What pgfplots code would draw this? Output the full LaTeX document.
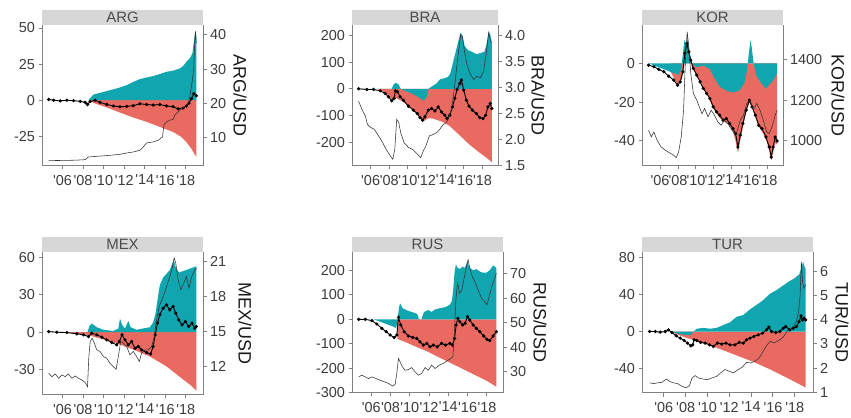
\documentclass[border=0pt]{standalone}
\usepackage{fontspec}
\setmainfont{Liberation Sans}
\usepackage{pgfplots}
\pgfplotsset{compat=1.18}
\definecolor{tealc}{RGB}{16,165,175}
\definecolor{redc}{RGB}{233,106,96}
\definecolor{stripc}{RGB}{215,215,215}
\definecolor{linegray}{RGB}{128,128,128}
\definecolor{labgray}{RGB}{60,60,60}
\pgfplotsset{
 base/.style={scale only axis, anchor=south west, xmin=2004, xmax=2019.67,
   axis line style={linegray,line width=1bp,-}, tick style={linegray,line width=1bp},
   tick align=outside, major tick length=3.5bp,
   tick label style={font=\fontsize{14.5}{16}\selectfont, text=labgray}},
 panelL/.style={base, axis x line*=bottom, axis y line*=left,
   xtick={2006,2008,...,2018},
   xticklabels={{\textquotesingle}06,{\textquotesingle}08,{\textquotesingle}10,{\textquotesingle}12,{\textquotesingle}14,{\textquotesingle}16,{\textquotesingle}18},
   x tick label style={yshift=-2bp}},
 panelR/.style={base, axis x line=none, axis y line*=right},
 redA/.style={fill=redc, draw=none},
 tealA/.style={fill=tealc, draw=none},
 dotL/.style={black, line width=0.9bp, mark=*, mark size=1.15bp},
 thinL/.style={black!80, line width=0.55bp},
}
\newcommand{\strip}[2]{\fill[stripc] (#1.north west) rectangle ([yshift=15bp]#1.north east);
 \node[font=\fontsize{15}{16}\selectfont, text=black!70, inner sep=0pt] at ([yshift=7.5bp]#1.north) {#2};}
\newcommand{\rlabel}[3]{\node[rotate=-90, font=\fontsize{18}{20}\selectfont, text=black!90, inner sep=0pt] at ([xshift=#2]#1.east) {#3};}
\begin{document}
\begin{tikzpicture}
\path[use as bounding box] (0,0) rectangle (851bp,418bp);
% ---------------- ARG
\begin{axis}[panelL, name=arg, at={(42bp,252bp)}, width=161bp, height=141bp,
  ymin=-45.6, ymax=52.1, ytick={-25,0,25,50}, yticklabels={-25,0,25,50}]
\addplot[redA] coordinates {(2008.52,0) (2009.01,-1.9) (2009.65,-3.5) (2010.62,-5.8) (2011.59,-8.6) (2012.89,-12) (2014.18,-15) (2015.47,-18.5) (2016.76,-22) (2017.57,-25.5) (2018.05,-29) (2018.54,-33.6) (2019.02,-39.4)} \closedcycle;
\addplot[tealA] coordinates {(2008.52,0) (2009.01,3.9) (2009.65,5.1) (2010.62,6.9) (2011.59,8.8) (2012.24,10.4) (2012.89,12.7) (2013.53,14.6) (2014.18,15.7) (2014.82,16.7) (2015.47,18.1) (2016.12,19.7) (2016.76,20.4) (2017.41,22) (2017.73,23.6) (2018.05,26.6) (2018.38,28.9) (2018.64,32.4) (2018.80,41.7) (2018.93,48.2) (2019.02,44)} \closedcycle;
\addplot[dotL] coordinates {(2004.65,0.5) (2005.13,0) (2005.78,-0.5) (2006.42,0) (2007.07,-0.3) (2007.72,-0.8) (2008.2,-1.5) (2008.43,-3) (2008.68,-1) (2009.17,0) (2009.65,-1.5) (2010.3,-3) (2010.95,-4) (2011.59,-4.6) (2012.24,-4.3) (2012.89,-3.8) (2013.53,-2.5) (2014.18,-3) (2014.82,-3.4) (2015.47,-3) (2016.12,-4) (2016.76,-4.5) (2017.25,-6) (2017.73,-5.5) (2018.05,-4) (2018.31,-2) (2018.54,1) (2018.77,4.5) (2019.02,3)};
\end{axis}
\begin{axis}[panelR, name=argR, at={(42bp,252bp)}, width=161bp, height=141bp,
  ymin=1.7, ymax=42.9, ytick={10,20,30,40}, yticklabels={10,20,30,40}]
\addplot[thinL] coordinates {(2004.65,3.35) (2005.5,3.3) (2006.42,3.35) (2007.3,3.4) (2008.20,3.55) (2008.52,4.33) (2009.33,4.53) (2010.62,4.82) (2011.59,5.11) (2012.24,5.5) (2012.89,5.8) (2013.53,6.29) (2013.85,7.26) (2014.18,8.44) (2014.82,8.73) (2015.31,9.22) (2015.73,10.2) (2015.86,13.6) (2016.12,14.6) (2016.44,15.1) (2016.76,15.3) (2016.92,16.5) (2017.25,17.5) (2017.57,18.5) (2017.89,19.0) (2018.22,20.0) (2018.38,21.9) (2018.54,24.9) (2018.64,26.8) (2018.77,30.7) (2018.86,37.6) (2018.93,41.0) (2019.02,37.6)};
\end{axis}
\strip{arg}{ARG}
\rlabel{argR}{37bp}{ARG/USD}
% ---------------- BRA
\begin{axis}[panelL, name=bra, at={(352bp,252bp)}, width=146bp, height=141bp,
  ymin=-289.7, ymax=239.5, ytick={-200,-100,0,100,200}, yticklabels={-200,-100,0,100,200}]
\addplot[redA] coordinates {(2006.67,0) (2007.02,-5) (2007.74,-18) (2008.27,-40) (2008.80,-35) (2009.52,-50) (2010.58,-82) (2011.4,-112) (2011.65,-122) (2012.2,-110) (2012.72,-112) (2013.79,-125) (2014.50,-140) (2015.57,-175) (2016.63,-210) (2017.70,-240) (2018.41,-258) (2019.0,-275)} \closedcycle;
\addplot[tealA] coordinates {(2004.71,0) (2008.27,0) (2008.45,15) (2008.63,22) (2008.98,18) (2009.23,0) (2009.87,-10) (2010.58,-20) (2011.30,-35) (2011.72,-45) (2012.01,-30) (2012.22,0) (2012.54,8) (2013.07,20) (2013.43,35) (2013.96,40) (2014.32,45) (2014.57,60) (2014.85,100) (2015.14,140) (2015.42,180) (2015.64,210) (2015.85,200) (2016.10,160) (2016.46,145) (2016.81,140) (2017.35,130) (2017.88,135) (2018.23,140) (2018.48,175) (2018.70,215) (2018.91,195) (2019.0,170)} \closedcycle;
\addplot[dotL] coordinates {(2004.71,0) (2005.60,-2.5) (2006.31,-2.5) (2007.02,-7.5) (2007.56,-17.6) (2007.91,-30) (2008.27,-45) (2008.52,-36) (2008.66,-7.5) (2008.88,-11) (2009.16,-30) (2009.52,-43) (2010.05,-65) (2010.58,-80) (2011.01,-93) (2011.30,-108) (2011.58,-118) (2011.83,-105) (2012.19,-80) (2012.54,-74) (2012.90,-83) (2013.25,-68) (2013.61,-87) (2013.96,-99) (2014.21,-112) (2014.50,-99) (2014.78,-68) (2015.03,-36) (2015.28,-2.5) (2015.57,20) (2015.74,33) (2015.99,-5) (2016.28,-43) (2016.56,-65) (2016.92,-80) (2017.35,-93) (2017.70,-108) (2018.06,-112) (2018.34,-99) (2018.59,-68) (2018.84,-55) (2019.0,-74)};
\end{axis}
\begin{axis}[panelR, name=braR, at={(352bp,252bp)}, width=146bp, height=141bp,
  ymin=1.49, ymax=4.21, ytick={1.5,2,2.5,3,3.5,4}, yticklabels={1.5,2.0,2.5,3.0,3.5,4.0}]
\addplot[thinL] coordinates {(2004.71,2.74) (2005.07,2.58) (2005.42,2.46) (2005.67,2.29) (2006.03,2.23) (2006.38,2.2) (2006.85,2.07) (2007.20,1.97) (2007.67,1.81) (2008.09,1.69) (2008.38,1.62) (2008.59,1.81) (2008.80,2.39) (2009.02,2.33) (2009.23,2.13) (2009.59,1.94) (2010.05,1.85) (2010.51,1.81) (2011.01,1.72) (2011.37,1.65) (2011.65,1.78) (2011.94,1.88) (2012.29,2.07) (2012.72,2.10) (2013.07,2.13) (2013.43,2.2) (2013.79,2.29) (2014.14,2.33) (2014.43,2.46) (2014.68,2.58) (2014.93,2.9) (2015.21,3.35) (2015.46,3.74) (2015.67,4.03) (2015.85,3.99) (2016.10,3.67) (2016.38,3.42) (2016.70,3.26) (2017.06,3.16) (2017.42,3.22) (2017.77,3.19) (2018.13,3.32) (2018.41,3.67) (2018.66,4.06) (2018.88,3.90) (2019.0,3.87)};
\end{axis}
\strip{bra}{BRA}
\rlabel{braR}{40bp}{BRA/USD}
% ---------------- KOR
\begin{axis}[panelL, name=kor, at={(642bp,252bp)}, width=141bp, height=141bp,
  ymin=-52.9, ymax=19.8, ytick={-40,-20,0}, yticklabels={-40,-20,0}]
\addplot[redA] coordinates {(2007.15,-4) (2007.96,-11) (2008.43,-8) (2008.80,2) (2009.16,5) (2009.42,0) (2009.79,-4) (2010.26,-8) (2010.81,-13) (2011.36,-17) (2011.91,-23) (2012.46,-27) (2013.01,-30) (2013.56,-31) (2014.11,-35) (2014.40,-40) (2014.66,-46) (2014.92,-40) (2015.21,-33) (2015.58,-25) (2015.94,-20) (2016.31,-24) (2016.67,-29) (2017.03,-33) (2017.47,-36) (2017.84,-40) (2018.14,-45) (2018.36,-50) (2018.58,-46) (2018.80,-41) (2019.02,-42)} \closedcycle;
\addplot[tealA] coordinates {(2004.73,0) (2005.32,-1) (2006.42,-3) (2007.52,-5) (2008.07,-6) (2008.36,-3) (2008.54,5) (2008.72,12) (2008.91,10) (2009.09,13) (2009.27,6) (2009.53,0) (2010.08,-2) (2010.81,-1) (2011.55,-3) (2012.10,-8) (2012.64,-12) (2013.38,-14) (2014.11,-15) (2014.84,-14) (2015.39,-10) (2015.69,-3) (2015.87,5) (2016.05,12) (2016.20,8) (2016.38,1) (2016.67,-6) (2017.22,-10) (2017.77,-13) (2018.32,-10) (2018.69,-8) (2019.02,-5)} \closedcycle;
\addplot[dotL] coordinates {(2004.73,-0.9) (2005.32,-1.7) (2005.87,-3.1) (2006.42,-4.3) (2006.97,-6.6) (2007.52,-8.6) (2007.96,-11.2) (2008.25,-9.5) (2008.54,-4.3) (2008.76,5.2) (2008.98,10.3) (2009.20,6) (2009.42,1.7) (2009.71,-2.6) (2010.08,-6) (2010.45,-9.5) (2010.81,-12.9) (2011.18,-15.5) (2011.55,-18.1) (2011.91,-22.4) (2012.28,-25) (2012.64,-26.7) (2013.01,-29.3) (2013.38,-28.4) (2013.74,-31) (2014.11,-33.6) (2014.40,-36.2) (2014.66,-43.1) (2014.92,-37) (2015.21,-31) (2015.58,-24.1) (2015.94,-19) (2016.23,-22.4) (2016.60,-26.7) (2016.97,-31.9) (2017.33,-33.6) (2017.77,-37.9) (2018.14,-43.1) (2018.36,-48.3) (2018.58,-43.1) (2018.80,-38) (2019.02,-40)};
\end{axis}
\begin{axis}[panelR, name=korR, at={(642bp,252bp)}, width=141bp, height=141bp,
  ymin=877, ymax=1569, ytick={1000,1200,1400}, yticklabels={1000,1200,1400}]
\addplot[thinL] coordinates {(2004.73,1053) (2005.03,1020) (2005.32,1044) (2005.68,1003) (2006.12,971) (2006.60,954) (2007.08,941) (2007.52,930) (2007.81,918) (2008.07,946) (2008.36,1020) (2008.62,1151) (2008.84,1413) (2009.02,1536) (2009.20,1462) (2009.42,1331) (2009.71,1233) (2010.08,1200) (2010.37,1167) (2010.67,1134) (2010.96,1159) (2011.33,1118) (2011.69,1151) (2012.06,1126) (2012.43,1093) (2012.79,1077) (2013.16,1102) (2013.52,1085) (2013.89,1061) (2014.26,1036) (2014.55,1044) (2014.92,1102) (2015.28,1126) (2015.65,1184) (2016.01,1200) (2016.38,1151) (2016.75,1184) (2017.11,1151) (2017.48,1102) (2017.85,1044) (2018.14,1036) (2018.51,1077) (2018.80,1126) (2019.02,1151)};
\end{axis}
\strip{kor}{KOR}
\rlabel{korR}{55bp}{KOR/USD}
% ---------------- MEX
\begin{axis}[panelL, name=mex, at={(42bp,23bp)}, width=161bp, height=143bp,
  ymin=-50.5, ymax=64.5, ytick={-30,0,30,60}, yticklabels={-30,0,30,60}]
\addplot[redA] coordinates {(2006.42,0) (2007.39,-1) (2008.36,-2) (2009.65,-5) (2011.27,-9) (2012.89,-14) (2014.50,-19.5) (2016.12,-27.5) (2017.73,-38) (2018.54,-43) (2019.02,-47)} \closedcycle;
\addplot[tealA] coordinates {(2004.65,0) (2008.43,0) (2008.62,5) (2008.85,7) (2009.33,4) (2009.98,2) (2010.95,1) (2011.43,3) (2011.59,11) (2011.79,6) (2012.08,3) (2012.40,9) (2012.63,4) (2013.21,2) (2013.85,3) (2014.50,4) (2014.82,8) (2015.05,15) (2015.28,28) (2015.47,38) (2015.79,44) (2016.12,47) (2016.44,50) (2016.67,55) (2016.83,58) (2017.02,52) (2017.34,48) (2017.67,49) (2018.05,50) (2018.38,51) (2018.70,52) (2019.02,53)} \closedcycle;
\addplot[dotL] coordinates {(2004.65,0.5) (2005.45,0) (2006.42,-0.3) (2007.39,-1.3) (2008.04,-2.1) (2008.52,-3.5) (2008.85,-0.8) (2009.33,-2.1) (2009.82,-4) (2010.30,-6.2) (2010.79,-8.3) (2011.27,-10.2) (2011.53,-7.5) (2011.79,-2.1) (2012.08,-6.2) (2012.40,-10.2) (2012.72,-7.5) (2013.05,-12.9) (2013.37,-11.5) (2013.69,-14.2) (2014.18,-16.4) (2014.57,-17.5) (2014.82,-11.5) (2015.02,-2.1) (2015.24,7.3) (2015.47,14) (2015.79,19.3) (2016.12,22) (2016.44,18) (2016.76,20.7) (2017.02,15.3) (2017.31,9.9) (2017.63,5.9) (2017.96,8.6) (2018.28,4.6) (2018.60,7.3) (2018.86,3.2) (2019.02,4.6)};
\end{axis}
\begin{axis}[panelR, name=mexR, at={(42bp,23bp)}, width=161bp, height=143bp,
  ymin=9.57, ymax=21.8, ytick={12,15,18,21}, yticklabels={12,15,18,21}]
\addplot[thinL] coordinates {(2004.65,11.43) (2004.97,11.14) (2005.29,11.37) (2005.62,11.0) (2005.94,11.29) (2006.26,11.14) (2006.58,11.37) (2006.91,11.0) (2007.23,11.2) (2007.55,11.0) (2007.88,10.86) (2008.20,10.63) (2008.43,10.29) (2008.56,12.86) (2008.69,14.14) (2008.88,14.43) (2009.10,14) (2009.33,13.43) (2009.65,13.29) (2009.98,12.86) (2010.30,12.71) (2010.62,12.29) (2010.95,12.0) (2011.21,11.77) (2011.43,12.86) (2011.66,14.14) (2011.92,14) (2012.24,13.71) (2012.56,13) (2012.89,13.29) (2013.21,12.86) (2013.47,12.43) (2013.69,13.14) (2014.02,13.43) (2014.34,13.43) (2014.66,13.71) (2014.89,14.43) (2015.15,16) (2015.41,17.14) (2015.66,17.71) (2015.92,18.29) (2016.18,19) (2016.44,19.71) (2016.67,20.43) (2016.86,21.29) (2017.02,20.86) (2017.25,19.43) (2017.51,18.57) (2017.80,19.14) (2018.05,19.71) (2018.31,18.71) (2018.57,19.71) (2018.80,20.14) (2019.02,20.43)};
\end{axis}
\strip{mex}{MEX}
\rlabel{mexR}{42bp}{MEX/USD}
% ---------------- RUS
\begin{axis}[panelL, name=rus, at={(352bp,25bp)}, width=151bp, height=141bp,
  ymin=-300.5, ymax=274.6, ytick={-300,-200,-100,0,100,200}, yticklabels={-300,-200,-100,0,100,200}]
\addplot[redA] coordinates {(2008.65,0) (2008.72,-80) (2009.68,-95) (2010.71,-113) (2011.75,-130) (2012.78,-150) (2013.81,-170) (2014.85,-190) (2015.88,-210) (2016.91,-230) (2017.95,-250) (2018.98,-275)} \closedcycle;
\addplot[tealA] coordinates {(2004.69,0) (2006.24,0) (2006.93,-10) (2007.62,-20) (2008.30,-30) (2008.58,-36) (2008.75,0) (2008.86,45) (2008.99,65) (2009.27,45) (2009.61,38) (2010.03,32) (2010.37,28) (2010.78,22) (2010.95,0) (2011.2,0) (2011.47,30) (2011.92,38) (2012.26,30) (2012.61,40) (2013.06,45) (2013.47,48) (2013.81,52) (2014.16,60) (2014.37,75) (2014.50,120) (2014.64,190) (2014.78,225) (2014.95,210) (2015.19,205) (2015.47,215) (2015.71,210) (2015.95,235) (2016.22,210) (2016.57,200) (2016.91,205) (2017.26,195) (2017.60,190) (2017.95,190) (2018.29,200) (2018.64,220) (2018.98,210)} \closedcycle;
\addplot[dotL] coordinates {(2004.69,0) (2005.38,0) (2006.07,-5.5) (2006.58,-19) (2007.10,-37) (2007.55,-50.5) (2007.96,-64) (2008.37,-74) (2008.65,-64) (2008.82,8) (2009.06,-23) (2009.41,-50.5) (2009.85,-68) (2010.30,-74) (2010.71,-78) (2011.06,-92) (2011.40,-105) (2011.75,-98) (2012.09,-112) (2012.44,-105) (2012.85,-112) (2013.30,-98) (2013.71,-105) (2014.16,-98) (2014.43,-105) (2014.64,-78) (2014.81,-23) (2014.98,4) (2015.19,-9.6) (2015.47,-23) (2015.74,-16) (2015.98,11) (2016.22,-2.7) (2016.57,-23) (2016.91,-37) (2017.26,-50.5) (2017.67,-68) (2018.02,-82) (2018.29,-87) (2018.64,-68) (2018.98,-50.5)};
\end{axis}
\begin{axis}[panelR, name=rusR, at={(352bp,25bp)}, width=151bp, height=141bp,
  ymin=21.2, ymax=78.9, ytick={30,40,50,60,70}, yticklabels={30,40,50,60,70}]
\addplot[thinL] coordinates {(2004.69,27.8) (2005.03,28.5) (2005.38,27.8) (2005.72,27.1) (2006.07,27.8) (2006.51,27.1) (2006.93,26.4) (2007.34,25.8) (2007.79,25.1) (2008.24,24.0) (2008.48,24.8) (2008.65,29.2) (2008.82,35.3) (2008.99,34) (2009.23,31.9) (2009.51,30.5) (2009.85,30.8) (2010.20,31.6) (2010.54,29.9) (2010.89,28.5) (2011.23,29.2) (2011.58,31.6) (2011.92,30.5) (2012.26,32.6) (2012.61,31.2) (2013.06,32.6) (2013.47,33.3) (2013.88,34.4) (2014.23,35.3) (2014.47,36) (2014.64,47) (2014.78,59.3) (2014.95,66.2) (2015.16,62) (2015.40,63.4) (2015.67,68.9) (2015.88,73) (2016.05,75.8) (2016.22,72.3) (2016.47,68.9) (2016.74,66.8) (2017.09,63.4) (2017.43,60) (2017.77,58.6) (2018.02,57.3) (2018.22,60.7) (2018.46,64.1) (2018.74,67.5) (2018.98,70.3)};
\end{axis}
\strip{rus}{RUS}
\rlabel{rusR}{37bp}{RUS/USD}
% ---------------- TUR
\begin{axis}[panelL, name=tur, at={(642bp,25bp)}, width=171bp, height=141bp,
  ymin=-66.9, ymax=86.5, ytick={-40,0,40,80}, yticklabels={-40,0,40,80}]
\addplot[redA] coordinates {(2006.59,0) (2007.19,-3) (2008.11,-7) (2009.63,-12.6) (2011.15,-19) (2012.67,-26) (2014.19,-33) (2015.71,-41) (2017.23,-50) (2018.76,-59.5) (2019.00,-61)} \closedcycle;
\addplot[tealA] coordinates {(2004.70,0) (2006.59,0) (2007.50,-3) (2008.41,-4) (2008.72,0) (2009.02,3) (2009.63,4) (2010.24,3) (2010.85,4) (2011.45,7) (2012.06,10) (2012.67,16) (2013.28,18) (2013.89,24) (2014.50,29) (2015.10,34) (2015.71,41) (2016.32,45) (2016.93,50) (2017.54,55) (2017.99,58) (2018.39,62) (2018.60,68) (2018.76,76) (2018.91,70) (2019.00,68)} \closedcycle;
\addplot[dotL] coordinates {(2004.70,0) (2005.22,0) (2005.67,-0.7) (2006.13,0) (2006.43,1.8) (2006.74,-1.1) (2007.13,-4.7) (2007.50,-7.2) (2007.86,-9.8) (2008.17,-12.6) (2008.47,-15.5) (2008.65,-14.5) (2008.78,-9) (2009.02,-9.8) (2009.38,-11.9) (2009.78,-12.6) (2010.18,-14.5) (2010.54,-16.3) (2010.91,-12.6) (2011.30,-13.7) (2011.70,-12.6) (2012.06,-14.5) (2012.52,-14.5) (2012.91,-11.9) (2013.28,-12.6) (2013.58,-9) (2013.89,-7.2) (2014.25,-5.4) (2014.65,-3.6) (2015.04,-1.8) (2015.41,1.8) (2015.62,4.7) (2015.87,0) (2016.26,-1.1) (2016.63,0) (2016.93,3.6) (2017.17,5.4) (2017.54,1.8) (2017.84,3.6) (2018.15,5.4) (2018.39,10.8) (2018.57,17) (2018.69,12.6) (2018.85,14.5) (2019.00,12.6)};
\end{axis}
\begin{axis}[panelR, name=turR, at={(642bp,25bp)}, width=171bp, height=141bp,
  ymin=0.97, ymax=6.8, ytick={1,2,3,4,5,6}, yticklabels={1,2,3,4,5,6}]
\addplot[thinL] coordinates {(2004.70,1.39) (2005.06,1.36) (2005.43,1.39) (2005.83,1.41) (2006.22,1.55) (2006.53,1.45) (2006.89,1.39) (2007.26,1.36) (2007.65,1.25) (2008.05,1.18) (2008.35,1.28) (2008.59,1.59) (2008.87,1.69) (2009.17,1.59) (2009.57,1.55) (2009.99,1.52) (2010.39,1.59) (2010.85,1.66) (2011.21,1.8) (2011.61,1.94) (2012.0,1.87) (2012.37,1.8) (2012.82,1.94) (2013.22,2.05) (2013.58,2.24) (2013.95,2.21) (2014.34,2.28) (2014.74,2.42) (2015.10,2.69) (2015.47,2.97) (2015.77,3.11) (2016.08,3.04) (2016.38,3.11) (2016.69,3.18) (2016.99,3.31) (2017.29,3.52) (2017.60,3.59) (2017.90,3.73) (2018.15,3.93) (2018.33,4.28) (2018.48,4.97) (2018.60,6.4) (2018.72,5.52) (2018.85,5.3) (2019.00,5.45)};
\end{axis}
\strip{tur}{TUR}
\rlabel{turR}{29bp}{TUR/USD}
\end{tikzpicture}
\end{document}
